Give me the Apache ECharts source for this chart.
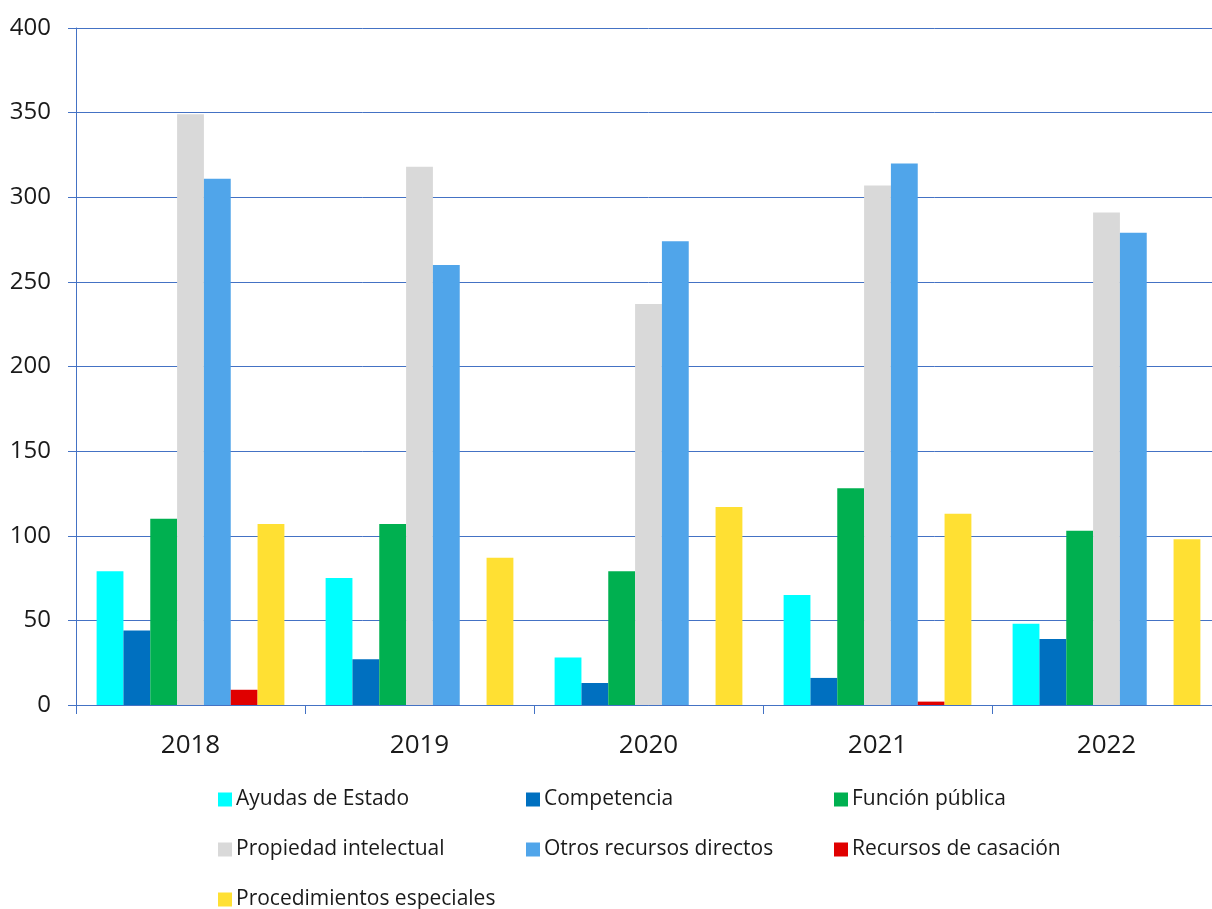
<!DOCTYPE html>
<html>
<head>
<meta charset="utf-8">
<script src="https://cdn.jsdelivr.net/npm/echarts@6/dist/echarts.min.js"></script>
<style>
  html, body { margin: 0; padding: 0; background: #fff; overflow: hidden; }
  #chart { width: 1221px; height: 909px; }
</style>
</head>
<body>
<div id="chart"></div>
<script>
var years = ['2018', '2019', '2020', '2021', '2022']
var seriesNames = ['Ayudas de Estado', 'Competencia', 'Función pública', 'Propiedad intelectual', 'Otros recursos directos', 'Recursos de casación', 'Procedimientos especiales']
var ayudas = [79, 75, 28, 65, 48]
var competencia = [44, 27, 13, 16, 39]
var funcion = [110, 107, 79, 128, 103]
var propiedad = [349, 318, 237, 307, 291]
var otros = [311, 260, 274, 320, 279]
var casacion = [9, 0, 0, 2, 0]
var especiales = [107, 87, 117, 113, 98]
var yTicks = [0, 50, 100, 150, 200, 250, 300, 350, 400]

var values = [ayudas, competencia, funcion, propiedad, otros, casacion, especiales]
var colors = ['#00FFFF', '#0070C0', '#00B050', '#D9D9D9', '#50A5EA', '#E00000', '#FFE033']
var axisColor = '#4472C4'
var font = 'Open Sans'

// legend is 3 columns, placed item by item
var legendPos = [
  [218, 789], [526, 789], [834, 789],
  [218, 839], [526, 839], [834, 839],
  [218, 889]
]

// the last group runs past the 1212px window, like in the original
var myChart = echarts.init(document.getElementById('chart'))

var option = {
  backgroundColor: '#fff',
  animation: false,
  textStyle: { fontFamily: font },
  grid: {
    left: 76,
    right: 0,
    top: 28,
    bottom: 204
  },
  legend: seriesNames.map(function (name, i) {
    return {
      left: legendPos[i][0],
      top: legendPos[i][1],
      data: [name],
      icon: 'rect',
      itemWidth: 14,
      itemHeight: 14,
      itemGap: 0,
      padding: 0,
      textStyle: { fontFamily: font, fontSize: 21, color: '#1a1a1a', padding: [0, 0, 0, -1] }
    }
  }),
  xAxis: {
    type: 'category',
    data: years,
    axisLine: { lineStyle: { color: axisColor, width: 1 } },
    axisTick: { show: true, length: 9, interval: 0, lineStyle: { color: axisColor } },
    axisLabel: { fontFamily: font, fontSize: 26, color: '#1a1a1a', margin: 28 }
  },
  yAxis: {
    type: 'value',
    min: yTicks[0],
    max: yTicks[yTicks.length - 1],
    interval: 50,
    axisLine: { show: true, lineStyle: { color: axisColor, width: 1 } },
    axisTick: { show: true, length: 8, lineStyle: { color: axisColor } },
    axisLabel: { fontFamily: font, fontSize: 24, color: '#1a1a1a', margin: 25 },
    splitLine: { lineStyle: { color: axisColor, width: 1 } }
  },
  series: seriesNames.map(function (name, i) {
    return {
      name: name,
      type: 'bar',
      data: values[i],
      barGap: '0%',
      barCategoryGap: '18%',
      itemStyle: { color: colors[i] }
    }
  })
}

myChart.setOption(option)
</script>
</body>
</html>
